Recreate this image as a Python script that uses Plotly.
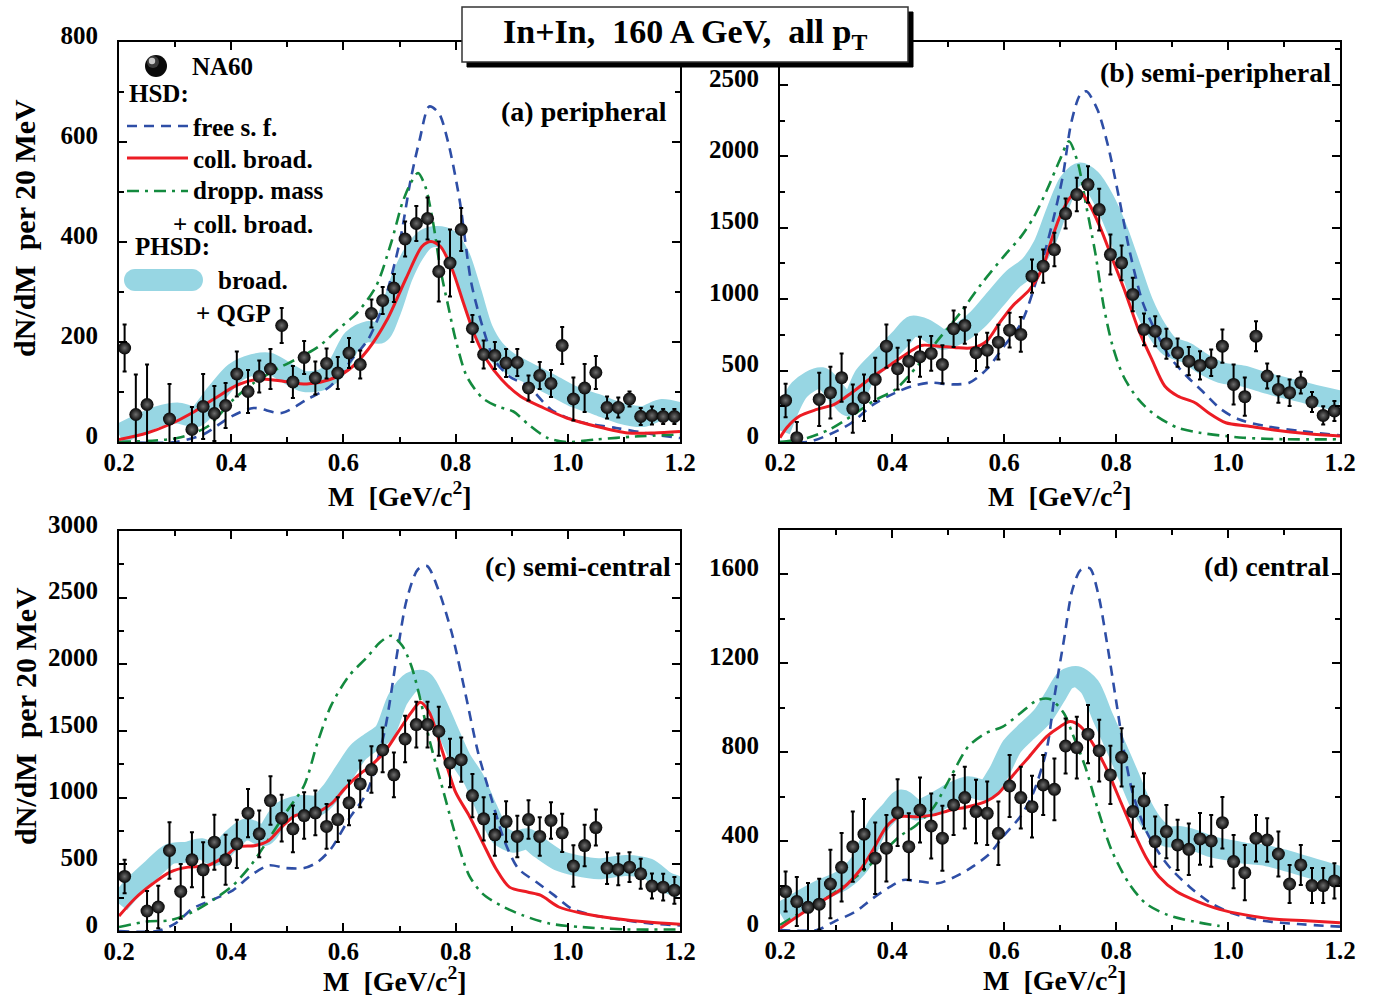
import plotly.graph_objects as go

W, H = 1381, 996
FONT = "Liberation Serif, Times New Roman, serif"

# ---------------- data: panel (a) peripheral ----------------
a_x = [0.21, 0.23, 0.25, 0.29, 0.33, 0.35, 0.37, 0.39, 0.41, 0.43, 0.45, 0.47, 0.49, 0.51, 0.53, 0.55,
       0.57, 0.59, 0.61, 0.63, 0.65, 0.67, 0.69, 0.71, 0.73, 0.75, 0.77, 0.79, 0.81, 0.83, 0.85, 0.87,
       0.89, 0.91, 0.93, 0.95, 0.97, 0.99, 1.01, 1.03, 1.05, 1.07, 1.09, 1.11, 1.13, 1.15, 1.17, 1.19]
a_y = [188, 55, 75, 46, 25, 71, 57, 73, 136, 101, 131, 146, 233, 120, 169, 128, 157, 138, 178, 155, 257, 283,
       308, 406, 437, 447, 341, 358, 425, 227, 175, 173, 158, 159, 108, 133, 117, 193, 86, 108, 139, 69, 69,
       86, 51, 53, 51, 51]
a_err = [47, 80, 80, 70, 45, 65, 55, 45, 45, 43, 32, 40, 35, 32, 33, 33, 30, 32, 30, 28, 28, 27, 28, 35, 35,
         42, 60, 67, 43, 27, 28, 27, 28, 27, 25, 27, 27, 37, 43, 48, 33, 22, 20, 15, 17, 18, 15, 15]
a_free_x = [0.2, 0.3, 0.35, 0.40, 0.44, 0.49, 0.535, 0.576, 0.617, 0.644, 0.67, 0.70, 0.72, 0.736, 0.753, 0.77,
            0.787, 0.807, 0.828, 0.848, 0.869, 0.896, 0.93, 0.97, 1.018, 1.086, 1.154, 1.2]
a_free_y = [0, 0, 15, 51, 68, 58, 85, 111, 168, 205, 271, 398, 525, 605, 671, 658, 598, 485, 318, 231, 165,
            131, 111, 65, 41, 28, 15, 8]
a_coll_x = [0.2, 0.25, 0.29, 0.33, 0.372, 0.413, 0.454, 0.495, 0.535, 0.576, 0.61, 0.644, 0.678, 0.712, 0.74,
            0.756, 0.773, 0.794, 0.814, 0.835, 0.855, 0.882, 0.916, 0.957, 0.998, 1.052, 1.107, 1.154, 1.2]
a_coll_y = [5, 18, 35, 58, 88, 115, 126, 121, 116, 125, 145, 185, 245, 328, 391, 401, 391, 345, 278, 211, 165,
            125, 91, 68, 48, 31, 18, 18, 21]
a_drop_x = [0.2, 0.304, 0.358, 0.40, 0.44, 0.48, 0.52, 0.556, 0.59, 0.624, 0.658, 0.685, 0.705, 0.72, 0.733,
            0.746, 0.76, 0.773, 0.787, 0.80, 0.82, 0.848, 0.875, 0.903, 0.93, 0.964, 0.998, 1.05, 1.12, 1.2]
a_drop_y = [0, 8, 31, 81, 118, 145, 168, 191, 225, 258, 311, 398, 478, 518, 538, 511, 438, 345, 271, 205, 131,
            88, 71, 61, 35, 8, 0, 5, 11, 15]
a_phsd_x = [0.2, 0.236, 0.27, 0.304, 0.338, 0.372, 0.406, 0.44, 0.467, 0.495, 0.53, 0.563, 0.59, 0.617, 0.644,
            0.665, 0.685, 0.705, 0.726, 0.746, 0.766, 0.787, 0.807, 0.828, 0.848, 0.869, 0.896, 0.93, 0.97,
            1.01, 1.052, 1.093, 1.134, 1.168, 1.2]
a_phsd_y = [15, 35, 51, 58, 51, 95, 138, 155, 158, 141, 121, 125, 151, 205, 221, 218, 265, 331, 378, 405, 411,
            405, 371, 298, 225, 185, 158, 138, 115, 91, 75, 58, 51, 65, 58]

# ---------------- data: panel (b) semi-peripheral ----------------
b_x = [0.21, 0.23, 0.27, 0.29, 0.31, 0.33, 0.35, 0.37, 0.39, 0.41, 0.43, 0.45, 0.47, 0.49, 0.51, 0.53, 0.55,
       0.57, 0.59, 0.61, 0.63, 0.65, 0.67, 0.69, 0.71, 0.73, 0.75, 0.77, 0.79, 0.81, 0.83, 0.85, 0.87, 0.89,
       0.91, 0.93, 0.95, 0.97, 0.99, 1.01, 1.03, 1.05, 1.07, 1.09, 1.11, 1.13, 1.15, 1.17, 1.19]
b_y = [291, 30, 298, 345, 450, 233, 310, 438, 671, 513, 566, 597, 620, 543, 793, 816, 625, 643, 699, 783, 753,
       1161, 1231, 1347, 1599, 1732, 1802, 1627, 1312, 1254, 1033, 788, 776, 688, 625, 566, 536, 555, 671,
       403, 317, 741, 462, 368, 345, 415, 280, 186, 217]
b_err = [117, 110, 186, 181, 169, 169, 163, 151, 151, 146, 146, 140, 122, 134, 128, 128, 128, 122, 122, 122,
         122, 117, 117, 117, 105, 117, 128, 146, 140, 122, 117, 111, 105, 105, 99, 99, 99, 93, 117, 140, 134,
         105, 87, 93, 93, 76, 70, 64, 70]
b_free_x = [0.2, 0.25, 0.289, 0.328, 0.367, 0.406, 0.437, 0.468, 0.507, 0.538, 0.569, 0.60, 0.631, 0.662,
            0.685, 0.705, 0.72, 0.736, 0.747, 0.767, 0.786, 0.806, 0.825, 0.848, 0.872, 0.895, 0.926, 0.957,
            0.988, 1.019, 1.066, 1.128, 1.2]
b_free_y = [0, 0, 54, 135, 263, 345, 392, 415, 403, 415, 508, 671, 834, 1184, 1510, 1860, 2233, 2431, 2455,
            2326, 2070, 1697, 1324, 974, 765, 601, 462, 345, 228, 159, 112, 77, 47]
b_coll_x = [0.2, 0.212, 0.235, 0.266, 0.297, 0.328, 0.367, 0.398, 0.429, 0.452, 0.483, 0.514, 0.545, 0.569,
            0.592, 0.615, 0.646, 0.67, 0.685, 0.70, 0.72, 0.736, 0.751, 0.771, 0.794, 0.817, 0.84, 0.864, 0.887,
            0.91, 0.941, 0.965, 0.996, 1.035, 1.082, 1.143, 1.2]
b_coll_y = [30, 100, 182, 228, 263, 345, 462, 543, 625, 676, 671, 660, 660, 706, 834, 951, 1068, 1231, 1417,
            1580, 1720, 1748, 1674, 1510, 1277, 1044, 788, 578, 392, 322, 275, 205, 135, 112, 84, 58, 42]
b_drop_x = [0.2, 0.25, 0.289, 0.328, 0.367, 0.406, 0.445, 0.483, 0.522, 0.561, 0.60, 0.631, 0.654, 0.677,
            0.70, 0.716, 0.732, 0.747, 0.763, 0.778, 0.794, 0.813, 0.84, 0.872, 0.91, 0.949, 1.027, 1.104, 1.2]
b_drop_y = [0, 30, 89, 182, 287, 368, 531, 718, 904, 1114, 1301, 1441, 1580, 1767, 1977, 2105, 1953, 1650,
            1324, 951, 671, 462, 298, 182, 100, 65, 30, 19, 19]
b_phsd_x = [0.2, 0.235, 0.274, 0.305, 0.324, 0.351, 0.382, 0.414, 0.437, 0.46, 0.491, 0.522, 0.553, 0.584,
            0.615, 0.646, 0.67, 0.693, 0.716, 0.736, 0.755, 0.778, 0.802, 0.825, 0.848, 0.872, 0.895, 0.926,
            0.957, 0.988, 1.027, 1.066, 1.113, 1.16, 1.2]
b_phsd_y = [80, 368, 450, 322, 252, 462, 590, 718, 811, 788, 718, 765, 858, 998, 1137, 1231, 1371, 1604, 1814,
            1883, 1837, 1697, 1487, 1231, 974, 788, 671, 625, 543, 485, 462, 415, 368, 322, 287]

# ---------------- data: panel (c) semi-central ----------------
c_x = [0.21, 0.25, 0.27, 0.29, 0.31, 0.33, 0.35, 0.37, 0.39, 0.41, 0.43, 0.45, 0.47, 0.49, 0.51, 0.53, 0.55,
       0.57, 0.59, 0.61, 0.63, 0.65, 0.67, 0.69, 0.71, 0.73, 0.75, 0.77, 0.79, 0.81, 0.83, 0.85, 0.87, 0.89,
       0.91, 0.93, 0.95, 0.97, 0.99, 1.01, 1.03, 1.05, 1.07, 1.09, 1.11, 1.13, 1.15, 1.17, 1.19]
c_y = [409, 150, 180, 604, 297, 534, 459, 666, 534, 654, 884, 729, 978, 846, 766, 866, 886, 784, 836, 961,
       1103, 1211, 1358, 1171, 1440, 1548, 1548, 1498, 1260, 1285, 1016, 841, 721, 821, 709, 836, 709, 829,
       736, 487, 641, 776, 472, 462, 479, 429, 337, 329, 305]
c_err = [125, 150, 160, 212, 206, 206, 206, 206, 187, 181, 181, 175, 182, 175, 175, 175, 168, 168, 168, 168,
         175, 175, 168, 168, 175, 171, 171, 184, 181, 166, 162, 162, 156, 152, 156, 144, 144, 137, 144, 156,
         156, 135, 119, 119, 112, 112, 94, 100, 100]
c_free_x = [0.2, 0.268, 0.30, 0.331, 0.371, 0.403, 0.435, 0.467, 0.498, 0.53, 0.554, 0.578, 0.61, 0.642,
            0.673, 0.697, 0.713, 0.733, 0.749, 0.769, 0.793, 0.817, 0.84, 0.864, 0.888, 0.912, 0.944, 0.976,
            1.007, 1.047, 1.103, 1.15, 1.2]
c_free_y = [0, 0, 55, 167, 242, 305, 417, 492, 472, 472, 517, 617, 841, 1041, 1490, 2114, 2488, 2713, 2738,
            2563, 2239, 1790, 1340, 991, 666, 467, 367, 267, 167, 117, 80, 55, 42]
c_coll_x = [0.2, 0.228, 0.26, 0.291, 0.323, 0.355, 0.387, 0.411, 0.443, 0.467, 0.49, 0.514, 0.546, 0.578,
            0.602, 0.626, 0.649, 0.673, 0.697, 0.721, 0.737, 0.753, 0.777, 0.80, 0.824, 0.848, 0.872, 0.896,
            0.928, 0.952, 0.984, 1.023, 1.087, 1.143, 1.2]
c_coll_y = [112, 242, 354, 442, 479, 487, 554, 629, 641, 679, 779, 866, 879, 953, 1066, 1166, 1240, 1340,
            1490, 1640, 1715, 1640, 1340, 1041, 866, 666, 467, 329, 292, 267, 180, 135, 92, 67, 50]
c_drop_x = [0.2, 0.252, 0.291, 0.331, 0.371, 0.403, 0.435, 0.467, 0.498, 0.53, 0.554, 0.578, 0.61, 0.642,
            0.665, 0.685, 0.705, 0.721, 0.737, 0.753, 0.777, 0.80, 0.824, 0.848, 0.88, 0.92, 0.968, 1.023,
            1.103, 1.2]
c_drop_y = [30, 72, 80, 142, 242, 342, 492, 691, 891, 1091, 1415, 1690, 1914, 2052, 2164, 2214, 2139, 1989,
            1740, 1440, 1066, 716, 417, 280, 192, 117, 55, 30, 12, 12]
c_phsd_x = [0.2, 0.228, 0.26, 0.291, 0.323, 0.347, 0.371, 0.403, 0.427, 0.459, 0.49, 0.522, 0.554, 0.578,
            0.602, 0.626, 0.649, 0.673, 0.697, 0.721, 0.741, 0.761, 0.785, 0.809, 0.832, 0.856, 0.88, 0.904,
            0.928, 0.952, 0.984, 1.015, 1.055, 1.103, 1.143, 1.175, 1.2]
c_phsd_y = [205, 342, 467, 579, 592, 617, 567, 691, 766, 716, 891, 941, 941, 1041, 1191, 1340, 1415, 1490,
            1740, 1864, 1877, 1740, 1515, 1290, 1141, 916, 716, 666, 691, 617, 529, 492, 467, 492, 467, 367, 329]

# ---------------- data: panel (d) central ----------------
d_x = [0.21, 0.23, 0.25, 0.27, 0.29, 0.31, 0.33, 0.35, 0.37, 0.39, 0.41, 0.43, 0.45, 0.47, 0.49, 0.51, 0.53,
       0.55, 0.57, 0.59, 0.61, 0.63, 0.65, 0.67, 0.69, 0.71, 0.73, 0.75, 0.77, 0.79, 0.81, 0.83, 0.85, 0.87,
       0.89, 0.91, 0.93, 0.95, 0.97, 0.99, 1.01, 1.03, 1.05, 1.07, 1.09, 1.11, 1.13, 1.15, 1.17, 1.19]
d_y = [173, 128, 102, 116, 207, 282, 375, 431, 323, 368, 528, 375, 540, 468, 413, 563, 596, 533, 525, 435,
       648, 596, 555, 653, 633, 828, 821, 881, 807, 698, 777, 533, 581, 398, 443, 383, 363, 410, 401, 483,
       308, 258, 413, 405, 342, 207, 293, 200, 200, 221]
d_err = [90, 110, 110, 115, 154, 154, 158, 158, 161, 150, 150, 150, 146, 146, 146, 135, 139, 143, 143, 143,
         139, 139, 139, 135, 139, 124, 139, 131, 139, 131, 131, 113, 124, 113, 120, 113, 116, 116, 116, 116,
         120, 124, 105, 98, 101, 86, 90, 79, 79, 79]
d_free_x = [0.2, 0.266, 0.297, 0.335, 0.366, 0.397, 0.42, 0.451, 0.482, 0.513, 0.544, 0.575, 0.598, 0.629,
            0.652, 0.676, 0.691, 0.707, 0.722, 0.737, 0.753, 0.768, 0.784, 0.80, 0.815, 0.83, 0.853, 0.877,
            0.90, 0.931, 0.97, 1.008, 1.062, 1.124, 1.2]
d_free_y = [0, 0, 38, 83, 143, 195, 225, 218, 210, 240, 285, 345, 420, 510, 615, 810, 1065, 1305, 1530, 1620,
            1628, 1515, 1290, 1035, 795, 615, 450, 345, 270, 195, 120, 75, 42, 27, 15]
d_coll_x = [0.2, 0.235, 0.273, 0.312, 0.343, 0.366, 0.39, 0.413, 0.444, 0.475, 0.505, 0.536, 0.567, 0.59,
            0.614, 0.645, 0.676, 0.70, 0.718, 0.737, 0.76, 0.784, 0.807, 0.83, 0.853, 0.877, 0.908, 0.946,
            0.985, 1.031, 1.086, 1.14, 1.2]
d_coll_y = [8, 68, 128, 188, 270, 360, 465, 510, 510, 518, 540, 555, 578, 615, 690, 780, 870, 915, 938, 915,
            833, 720, 585, 450, 330, 240, 173, 128, 93, 68, 48, 42, 33]
d_drop_x = [0.2, 0.235, 0.273, 0.312, 0.351, 0.382, 0.413, 0.444, 0.475, 0.505, 0.536, 0.567, 0.598, 0.629,
            0.66, 0.683, 0.707, 0.722, 0.745, 0.768, 0.792, 0.823, 0.853, 0.892, 0.939, 0.985]
d_drop_y = [23, 75, 128, 195, 270, 345, 420, 473, 555, 690, 825, 885, 915, 975, 1035, 1038, 975, 885, 735,
            540, 360, 210, 120, 68, 38, 18]
d_phsd_x = [0.2, 0.235, 0.273, 0.312, 0.343, 0.374, 0.397, 0.417, 0.444, 0.475, 0.505, 0.536, 0.567, 0.59,
            0.614, 0.637, 0.668, 0.691, 0.71, 0.73, 0.753, 0.776, 0.80, 0.823, 0.846, 0.869, 0.892, 0.915,
            0.939, 0.97, 1.0, 1.031, 1.062, 1.10, 1.14, 1.17, 1.2]
d_phsd_y = [75, 128, 180, 225, 300, 465, 533, 585, 540, 570, 615, 645, 630, 705, 825, 885, 960, 1050, 1125,
            1140, 1095, 960, 825, 690, 555, 465, 420, 420, 405, 375, 360, 345, 338, 315, 285, 263, 240]

# ---------------- labels ----------------
panel_labels = ["(a) peripheral", "(b) semi-peripheral", "(c) semi-central", "(d) central"]
y_ranges = [[0, 800], [0, 2800], [0, 3000], [0, 1800]]
y_major = [200, 500, 500, 400]
title_text = "In+In,  160 A GeV,  all p<sub>T</sub>"
x_title = "M  [GeV/c<sup>2</sup>]"
y_title = "dN/dM  per 20 MeV"
legend_texts = ["NA60", "HSD:", "free s. f.", "coll. broad.", "dropp. mass", "+ coll. broad.", "PHSD:",
                "broad.", "+ QGP"]

# ---------------- styles ----------------
C_BLUE = "#2e4ea6"
C_RED = "#ec1c24"
C_GREEN = "#138a3e"
C_BAND = "#97d6e3"
DASH_BLUE = "10px,7px"
DASH_GREEN = "12px,6px,3px,6px"


def px2paper(xp, yp):
    return xp / W, 1 - yp / H


# panel frames in pixels: (left, right, top, bottom)
frames = [(119, 680, 42, 442), (780, 1340, 42, 442), (119, 680, 531, 931), (780, 1340, 530, 930)]

fig = go.Figure()

panels = [
    (a_x, a_y, a_err, a_free_x, a_free_y, a_coll_x, a_coll_y, a_drop_x, a_drop_y, a_phsd_x, a_phsd_y),
    (b_x, b_y, b_err, b_free_x, b_free_y, b_coll_x, b_coll_y, b_drop_x, b_drop_y, b_phsd_x, b_phsd_y),
    (c_x, c_y, c_err, c_free_x, c_free_y, c_coll_x, c_coll_y, c_drop_x, c_drop_y, c_phsd_x, c_phsd_y),
    (d_x, d_y, d_err, d_free_x, d_free_y, d_coll_x, d_coll_y, d_drop_x, d_drop_y, d_phsd_x, d_phsd_y),
]

for i, p in enumerate(panels):
    (dx, dy, de, fx, fy, cx, cy, gx, gy, px_, py_) = p
    xa = "x" if i == 0 else f"x{i+1}"
    ya = "y" if i == 0 else f"y{i+1}"
    common = dict(xaxis=xa, yaxis=ya, showlegend=False, hoverinfo="skip")
    fig.add_trace(go.Scatter(x=px_, y=py_, mode="lines",
                             line=dict(color=C_BAND, width=21, shape="spline", smoothing=0.8), **common))
    fig.add_trace(go.Scatter(x=fx, y=fy, mode="lines",
                             line=dict(color=C_BLUE, width=2.6, dash=DASH_BLUE, shape="spline", smoothing=0.8),
                             **common))
    fig.add_trace(go.Scatter(x=gx, y=gy, mode="lines",
                             line=dict(color=C_GREEN, width=2.6, dash=DASH_GREEN, shape="spline", smoothing=0.8),
                             **common))
    fig.add_trace(go.Scatter(x=cx, y=cy, mode="lines",
                             line=dict(color=C_RED, width=3, shape="spline", smoothing=0.8), **common))
    fig.add_trace(go.Scatter(x=dx, y=dy, mode="markers",
                             marker=dict(size=13, color="#050505",
                                         gradient=dict(type="radial", color="#6e6e6e"),
                                         line=dict(width=0)),
                             error_y=dict(type="data", array=de, color="black", thickness=2, width=2),
                             **common))

tickfont = dict(family=FONT, size=25, color="black", weight="bold")
layout = dict(width=W, height=H, margin=dict(l=0, r=0, t=0, b=0, autoexpand=False),
              paper_bgcolor="white", plot_bgcolor="white", template="none")

for i, (l, r, t, b) in enumerate(frames):
    sx = "xaxis" if i == 0 else f"xaxis{i+1}"
    sy = "yaxis" if i == 0 else f"yaxis{i+1}"
    ya = "y" if i == 0 else f"y{i+1}"
    xa = "x" if i == 0 else f"x{i+1}"
    layout[sx] = dict(domain=[l / W, r / W], anchor=ya, range=[0.2, 1.2], tick0=0.2, dtick=0.2,
                      tickformat=".1f", ticks="inside", ticklen=8, tickwidth=2, tickcolor="black",
                      showline=True, linewidth=2, linecolor="black", mirror="ticks", automargin=False,
                      showgrid=False, zeroline=False, tickfont=tickfont, ticklabelstandoff=-3,
                      minor=dict(dtick=0.1, tick0=0.2, ticks="inside", ticklen=5, tickwidth=1.5,
                                 tickcolor="black", showgrid=False))
    layout[sy] = dict(domain=[1 - b / H, 1 - t / H], anchor=xa, range=y_ranges[i], tick0=0,
                      dtick=y_major[i], ticks="inside", ticklen=8, tickwidth=2, tickcolor="black",
                      showline=True, linewidth=2, linecolor="black", mirror="ticks", automargin=False,
                      showgrid=False, zeroline=False, tickfont=tickfont, ticklabelstandoff=14,
                      ticklabelshift=-7,
                      minor=dict(dtick=y_major[i] / 2, tick0=0, ticks="inside", ticklen=5, tickwidth=1.5,
                                 tickcolor="black", showgrid=False))

fig.update_layout(**layout)

shapes = []
annotations = []


def ann(text, xp, yp, size=25, xanchor="left", yanchor="middle", textangle=0):
    x, y = px2paper(xp, yp)
    annotations.append(dict(text=f"<b>{text}</b>", x=x, y=y, xref="paper", yref="paper",
                            xanchor=xanchor, yanchor=yanchor, showarrow=False, textangle=textangle,
                            font=dict(family=FONT, size=size, color="black")))


def line_shape(x0, y0, x1, y1, color, width, dash="solid"):
    X0, Y0 = px2paper(x0, y0)
    X1, Y1 = px2paper(x1, y1)
    shapes.append(dict(type="line", xref="paper", yref="paper", x0=X0, y0=Y0, x1=X1, y1=Y1,
                       line=dict(color=color, width=width, dash=dash), layer="above"))


def rect_shape(x0, y0, x1, y1, fill, lcolor, lwidth):
    X0, Y0 = px2paper(x0, y0)
    X1, Y1 = px2paper(x1, y1)
    shapes.append(dict(type="rect", xref="paper", yref="paper", x0=X0, y0=Y1, x1=X1, y1=Y0,
                       fillcolor=fill, line=dict(color=lcolor, width=lwidth), layer="above"))


def circle_shape(cx, cy, r, fill):
    X0, Y0 = px2paper(cx - r, cy - r)
    X1, Y1 = px2paper(cx + r, cy + r)
    shapes.append(dict(type="circle", xref="paper", yref="paper", x0=X0, y0=Y1, x1=X1, y1=Y0,
                       fillcolor=fill, line=dict(width=0), layer="above"))


def pill_shape(x0, x1, yc, h, fill):
    r = h / 2
    k = 0.5523 * r

    def P(x, y):
        X, Y = px2paper(x, y)
        return f"{X:.6f},{Y:.6f}"
    t, b = yc - r, yc + r
    path = (f"M {P(x0 + r, t)} L {P(x1 - r, t)} "
            f"C {P(x1 - r + k, t)} {P(x1, yc - k)} {P(x1, yc)} "
            f"C {P(x1, yc + k)} {P(x1 - r + k, b)} {P(x1 - r, b)} "
            f"L {P(x0 + r, b)} "
            f"C {P(x0 + r - k, b)} {P(x0, yc + k)} {P(x0, yc)} "
            f"C {P(x0, yc - k)} {P(x0 + r - k, t)} {P(x0 + r, t)} Z")
    shapes.append(dict(type="path", xref="paper", yref="paper", path=path, fillcolor=fill,
                       line=dict(width=0), layer="above"))


# legend (panel a)
circle_shape(156, 66, 11, "#0a0a0a")
circle_shape(153, 62, 6, "#3a3a3a")
circle_shape(152, 61, 3.2, "#c8c8c8")
ann(legend_texts[0], 190, 66)
ann(legend_texts[1], 127, 93)
line_shape(127, 126, 188, 126, C_BLUE, 2.6, DASH_BLUE)
ann(legend_texts[2], 191, 127)
line_shape(127, 158, 188, 158, C_RED, 3)
ann(legend_texts[3], 191, 159)
line_shape(127, 191, 188, 191, C_GREEN, 2.6, DASH_GREEN)
ann(legend_texts[4], 191, 191)
ann(legend_texts[5], 171, 224)
ann(legend_texts[6], 133, 247)
pill_shape(124, 203, 280, 22, C_BAND)
ann(legend_texts[7], 216, 281)
ann(legend_texts[8], 194, 313)

# panel labels
ann(panel_labels[0], 669, 112, size=28, xanchor="right")
ann(panel_labels[1], 1333, 72, size=28, xanchor="right")
ann(panel_labels[2], 673, 566, size=28, xanchor="right")
ann(panel_labels[3], 1331, 566, size=28, xanchor="right")

# axis titles
ann(x_title, 400, 495, size=28, xanchor="center")
ann(x_title, 1060, 495, size=28, xanchor="center")
ann(x_title, 395, 979, size=28, xanchor="center")
ann(x_title, 1055, 978, size=28, xanchor="center")
ann(y_title, 25, 228, size=30, xanchor="center", textangle=-90)
ann(y_title, 25, 716, size=30, xanchor="center", textangle=-90)

# title box with shadow
rect_shape(467, 12, 913, 67, "black", "black", 1)
rect_shape(462, 7, 908, 62, "white", "#333333", 1.5)
ann(title_text, 685, 34, size=34, xanchor="center")

fig.update_layout(shapes=shapes, annotations=annotations)
fig.write_html("out.html", config={"displayModeBar": False},
               post_script="document.body.style.margin='0';document.body.style.overflow='hidden';")
